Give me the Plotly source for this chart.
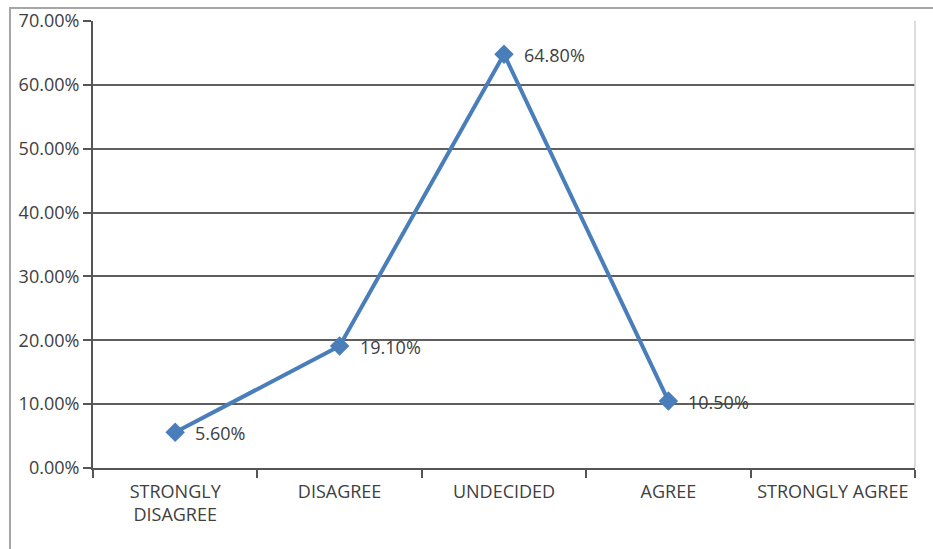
import plotly.graph_objects as go

# Survey response distribution
categories = ["STRONGLY<br>DISAGREE", "DISAGREE", "UNDECIDED", "AGREE", "STRONGLY AGREE"]
shares = [0.056, 0.191, 0.648, 0.105, None]
y_ticks = [0.0, 0.1, 0.2, 0.3, 0.4, 0.5, 0.6, 0.7]

text_color = "#404040"
font_family = "Open Sans, Noto Sans, sans-serif"
blue = "#4a7ebb"
font_size = 18

fig = go.Figure()
fig.add_trace(go.Scatter(
    x=categories,
    y=shares,
    mode="lines+markers",
    line=dict(color=blue, width=4),
    marker=dict(symbol="diamond", size=15, color=blue),
    cliponaxis=False,
    connectgaps=False,
    showlegend=False,
))

# value labels to the right of each point
for cat, v in zip(categories, shares):
    if v is None:
        continue
    fig.add_annotation(
        x=cat, y=v, text=f"{v * 100:.2f}%",
        xref="x", yref="y", showarrow=False,
        xanchor="left", yanchor="middle", xshift=18, yshift=-1,
        font=dict(size=font_size, color=text_color, family=font_family),
    )

axis_common = dict(
    showline=True,
    linecolor="#555555",
    linewidth=2,
    ticks="outside",
    ticklen=8,
    tickwidth=1.5,
    tickcolor="#555555",
    tickfont=dict(size=font_size, color=text_color, family=font_family),
    automargin=False,
    fixedrange=True,
)

fig.update_layout(
    width=933,
    height=549,
    margin=dict(l=93, r=18, t=21, b=81),
    paper_bgcolor="white",
    plot_bgcolor="white",
    font=dict(family=font_family, size=font_size, color=text_color),
    xaxis=dict(
        type="category",
        range=[-0.5, 4.5],
        showgrid=False,
        tickson="boundaries",
        ticklabelstandoff=6,
        **axis_common,
    ),
    yaxis=dict(
        range=[0, 0.7],
        tickvals=y_ticks,
        tickformat=".2%",
        showgrid=True,
        gridcolor="#5f5f5f",
        gridwidth=2,
        zeroline=False,
        ticklabelstandoff=0,
        **axis_common,
    ),
    shapes=[
        # light right-hand edge of the plotting area
        dict(type="line", xref="paper", yref="paper", x0=1, x1=1, y0=0, y1=1,
             line=dict(color="#d0d0d0", width=1.5)),
        # outer chart frame
        dict(type="rect", xref="paper", yref="paper",
             x0=-0.101, x1=1.05, y0=-0.25, y1=1.029,
             line=dict(color="#a6a6a6", width=2)),
    ],
)

fig.write_html("out.html")
